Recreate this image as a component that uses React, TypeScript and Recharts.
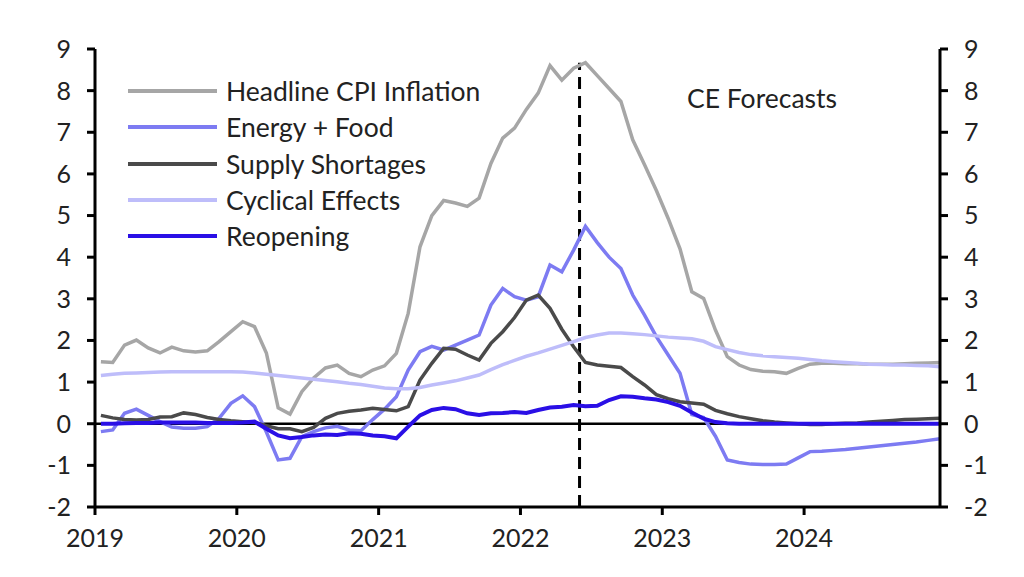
import { LineChart, Line, XAxis, YAxis, ReferenceLine } from 'recharts'

// monthly, Jan 2019 .. Dec 2024
const years = ['2019', '2020', '2021', '2022', '2023', '2024']
const yTicks = [-2, -1, 0, 1, 2, 3, 4, 5, 6, 7, 8, 9]

const headline = [
  1.49, 1.47, 1.89, 2.01, 1.82, 1.7, 1.84, 1.75, 1.72, 1.75, 1.97, 2.21,
  2.45, 2.33, 1.7, 0.38, 0.23, 0.77, 1.1, 1.34, 1.41, 1.21, 1.13, 1.29,
  1.39, 1.69, 2.65, 4.25, 5.0, 5.36, 5.3, 5.22, 5.42, 6.25, 6.86, 7.1,
  7.55, 7.94, 8.6, 8.25, 8.54, 8.67, 8.36, 8.05, 7.74, 6.82, 6.22, 5.6,
  4.93, 4.2, 3.17, 3.01, 2.25, 1.61, 1.41, 1.3, 1.26, 1.25, 1.21, 1.33,
  1.43, 1.45, 1.45, 1.44, 1.44, 1.43, 1.43, 1.43, 1.44, 1.45, 1.46, 1.47,
]
const energyFood = [
  -0.19, -0.15, 0.25, 0.35, 0.2, 0.05, -0.08, -0.11, -0.11, -0.07, 0.13, 0.49,
  0.67, 0.41, -0.2, -0.87, -0.83, -0.31, -0.19, -0.1, -0.06, -0.15, -0.17, 0.1,
  0.35, 0.65, 1.29, 1.73, 1.86, 1.77, 1.89, 2.01, 2.13, 2.85, 3.25, 3.05,
  2.97, 3.05, 3.81, 3.65, 4.17, 4.74, 4.35, 4.0, 3.73, 3.09, 2.61, 2.09,
  1.65, 1.21, 0.22, 0.15, -0.3, -0.87, -0.93, -0.97, -0.98, -0.98, -0.97, -0.82,
  -0.67, -0.66, -0.64, -0.62, -0.59, -0.56, -0.53, -0.5, -0.47, -0.44, -0.4, -0.36,
]
const supply = [
  0.2, 0.14, 0.1, 0.09, 0.1, 0.16, 0.17, 0.26, 0.22, 0.15, 0.1, 0.07,
  0.05, 0.03, -0.05, -0.12, -0.12, -0.19, -0.09, 0.13, 0.25, 0.3, 0.33, 0.37,
  0.34, 0.31, 0.41, 1.05, 1.45, 1.81, 1.79, 1.65, 1.53, 1.93, 2.21, 2.55,
  2.97, 3.09, 2.77, 2.27, 1.85, 1.47, 1.41, 1.38, 1.35, 1.13, 0.93, 0.7,
  0.6, 0.53, 0.5, 0.47, 0.32, 0.24, 0.17, 0.12, 0.07, 0.04, 0.02, 0.0,
  -0.02, -0.02, 0.0, 0.01, 0.02, 0.04, 0.06, 0.08, 0.1, 0.11, 0.12, 0.13,
]
const cyclical = [
  1.16, 1.19, 1.21, 1.22, 1.23, 1.24, 1.25, 1.25, 1.25, 1.25, 1.25, 1.25,
  1.24, 1.22, 1.19, 1.16, 1.13, 1.1, 1.07, 1.04, 1.01, 0.97, 0.94, 0.9,
  0.86, 0.84, 0.84, 0.87, 0.93, 0.98, 1.03, 1.1, 1.17, 1.3, 1.42, 1.52,
  1.62, 1.7, 1.79, 1.88, 1.97, 2.07, 2.13, 2.18, 2.18, 2.16, 2.14, 2.11,
  2.08, 2.06, 2.04, 1.98, 1.85, 1.78, 1.71, 1.66, 1.63, 1.61, 1.59, 1.57,
  1.54, 1.51, 1.49, 1.47, 1.45, 1.43, 1.42, 1.41, 1.41, 1.4, 1.39, 1.37,
]
const reopening = [
  0.0, 0.0, 0.01, 0.02, 0.02, 0.03, 0.03, 0.03, 0.03, 0.02, 0.02, 0.02,
  0.03, 0.05, -0.12, -0.28, -0.35, -0.32, -0.28, -0.26, -0.27, -0.23, -0.24, -0.28,
  -0.3, -0.35, -0.07, 0.2, 0.33, 0.38, 0.35, 0.25, 0.21, 0.25, 0.26, 0.28,
  0.26, 0.33, 0.39, 0.41, 0.45, 0.42, 0.43, 0.57, 0.66, 0.65, 0.61, 0.58,
  0.52, 0.43, 0.27, 0.12, 0.04, 0.01, 0.0, 0.0, 0.0, 0.0, 0.0, 0.0,
  0.0, 0.0, 0.0, 0.0, 0.0, 0.0, 0.0, 0.0, 0.0, 0.0, 0.0, 0.0,
]

// forecasts start at June 2022 (month 41)
const forecastStart = 41

const series = [
  { key: 'headline', name: 'Headline CPI Inflation', color: '#a6a6a6', width: 3.5 },
  { key: 'energyFood', name: 'Energy + Food', color: '#7d7bf2', width: 3.5 },
  { key: 'supply', name: 'Supply Shortages', color: '#4a4a4a', width: 3.5 },
  { key: 'cyclical', name: 'Cyclical Effects', color: '#bebdfa', width: 3.5 },
  { key: 'reopening', name: 'Reopening', color: '#2a0fe6', width: 4 },
]

// points sit mid-month
const data = headline.map((v, i) => ({
  t: i + 0.5,
  headline: v,
  energyFood: energyFood[i],
  supply: supply[i],
  cyclical: cyclical[i],
  reopening: reopening[i],
}))

const font = 'Lato, "Open Sans", sans-serif'
const tickStyle = { fill: '#222', fontSize: 25, fontFamily: font }
const axisStroke = { stroke: '#000', strokeWidth: 3 }

function LegendBox() {
  return (
    <div style={{ position: 'absolute', left: 128, top: 73, fontFamily: font, fontSize: 26.5, color: '#222' }}>
      {series.map(s => (
        <div key={s.key} style={{ display: 'flex', alignItems: 'center', height: 36.3, whiteSpace: 'nowrap' }}>
          <div style={{ width: 89, height: 4, background: s.color, marginRight: 9 }} />
          <span>{s.name}</span>
        </div>
      ))}
    </div>
  )
}

export default function App() {
  return (
    <div style={{ position: 'absolute', left: 0, top: 0, width: 1024, height: 577, background: '#fff' }}>
      <LineChart width={1024} height={577} data={data} margin={{ top: 49, right: 0, bottom: 0, left: 0 }}>
        <XAxis
          dataKey="t"
          type="number"
          domain={[0, 71.5]}
          ticks={[0, 12, 24, 36, 48, 60]}
          tickFormatter={v => years[Math.round(v / 12)]}
          height={70}
          axisLine={axisStroke}
          tickLine={axisStroke}
          tickSize={8}
          tickMargin={14}
          tick={tickStyle}
          interval={0}
        />
        <YAxis
          yAxisId="left"
          domain={[-2, 9]}
          ticks={yTicks}
          width={95}
          axisLine={axisStroke}
          tickLine={axisStroke}
          tickSize={8}
          tickMargin={16}
          tick={tickStyle}
          interval={0}
          allowDataOverflow
        />
        <YAxis
          yAxisId="right"
          orientation="right"
          domain={[-2, 9]}
          ticks={yTicks}
          width={84}
          axisLine={axisStroke}
          tickLine={axisStroke}
          tickSize={8}
          tickMargin={16}
          tick={tickStyle}
          interval={0}
          allowDataOverflow
        />
        <ReferenceLine yAxisId="right" y={0} stroke="#000" strokeWidth={2.5} />
        <ReferenceLine
          yAxisId="left"
          segment={[{ x: forecastStart, y: -2 }, { x: forecastStart, y: 8.67 }]}
          stroke="#000"
          strokeWidth={3}
          strokeDasharray="12 7"
        />
        {series.map(s => (
          <Line
            key={s.key}
            yAxisId="left"
            type="linear"
            dataKey={s.key}
            name={s.name}
            stroke={s.color}
            strokeWidth={s.width}
            dot={false}
            activeDot={false}
            isAnimationActive={false}
          />
        ))}
      </LineChart>
      <LegendBox />
      <div style={{ position: 'absolute', left: 687, top: 82, fontFamily: font, fontSize: 26.5, color: '#222', whiteSpace: 'nowrap' }}>
        CE Forecasts
      </div>
    </div>
  )
}
